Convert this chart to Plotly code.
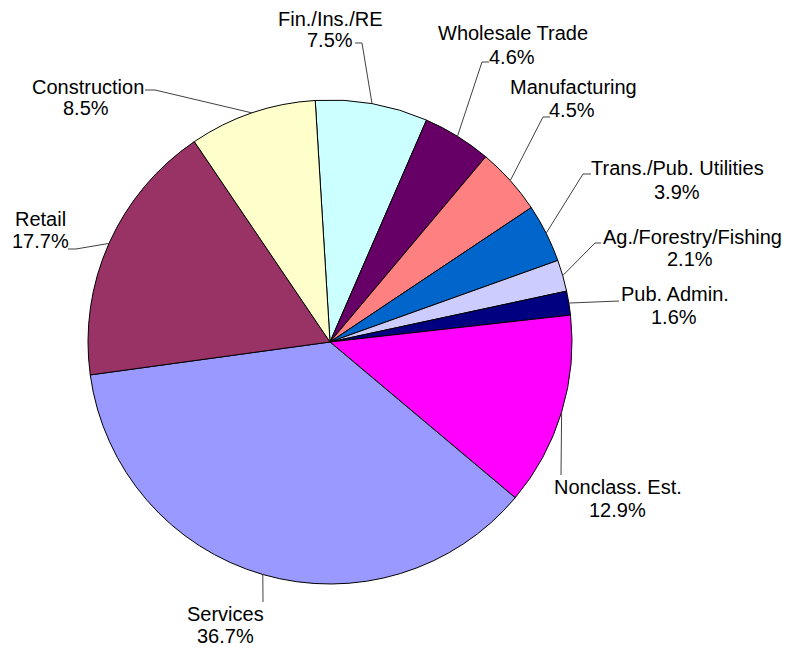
import math
import plotly.graph_objects as go

# ---- data ----
categories = ["Fin./Ins./RE", "Wholesale Trade", "Manufacturing", "Trans./Pub. Utilities",
              "Ag./Forestry/Fishing", "Pub. Admin.", "Nonclass. Est.", "Services",
              "Retail", "Construction"]
shares = [7.5, 4.6, 4.5, 3.9, 2.1, 1.6, 12.9, 36.7, 17.7, 8.5]
colors = ["#CCFFFF", "#660066", "#FF8080", "#0066CC", "#CCCCFF", "#000080",
          "#FF00FF", "#9999FF", "#993366", "#FFFFCC"]

# ---- layout (pixels, in page coordinates) ----
OFF = 8                    # default page margin around the plot div
W, H = 799 - OFF, 647 - OFF
CX, CY, R = 330, 342, 242
ROT = -3.5  # start angle (deg, clockwise from 12 o'clock)

# label placement: (name x, name y, value x, value y, leader path points after edge point)
label_pos = [
    (330, 19, 330, 40, [(362, 43), (355, 43)]),
    (513, 33, 512, 57, [(482, 62), (489, 62)]),
    (573, 87, 572, 110, [(543, 117), (550, 117)]),
    (677, 168, 677, 192, [(583, 174), (591, 174)]),
    (692, 237, 690, 259, [(595, 243), (601, 243)]),
    (675, 294, 674, 317, [(619, 301)]),
    (618, 487, 617, 510, [(561, 475)]),
    (225, 614, 225, 636, [(263, 602)]),
    (40, 219, 40, 241, [(76, 249), (68, 249)]),
    (88, 87, 86, 108, [(155, 90), (145, 90)]),
]

def px2paper(x, y):
    return (x - OFF) / W, 1 - (y - OFF) / H

dx0, dy0 = px2paper(CX - R, CY + R)
dx1, dy1 = px2paper(CX + R, CY - R)

fig = go.Figure(go.Pie(
    labels=categories, values=shares, sort=False, direction="clockwise",
    rotation=ROT, marker=dict(colors=colors, line=dict(color="#000000", width=1)),
    textinfo="none", hoverinfo="label+percent", showlegend=False,
    domain=dict(x=[dx0, dx1], y=[dy0, dy1]),
))

font = dict(family="Liberation Sans, Arial, sans-serif", size=20, color="#000000")
annotations = []
shapes = []
total = sum(shares)
cum = 0.0
for cat, v, lp in zip(categories, shares, label_pos):
    mid = ROT + 360 * (cum + v / 2) / total
    cum += v
    ex = CX + R * math.sin(math.radians(mid))
    ey = CY - R * math.cos(math.radians(mid))
    pts = [(ex, ey)] + lp[4]
    path = ""
    for i, (x, y) in enumerate(pts):
        px, py = px2paper(x, y)
        path += ("M" if i == 0 else " L") + f"{px:.5f},{py:.5f}"
    shapes.append(dict(type="path", xref="paper", yref="paper", path=path,
                       line=dict(color="#404040", width=1)))
    nx, ny = px2paper(lp[0], lp[1])
    vx, vy = px2paper(lp[2], lp[3])
    annotations.append(dict(x=nx, y=ny, xref="paper", yref="paper", text=cat,
                            showarrow=False, xanchor="center", yanchor="middle",
                            borderpad=0, font=font))
    annotations.append(dict(x=vx, y=vy, xref="paper", yref="paper", text=f"{v:.1f}%",
                            showarrow=False, xanchor="center", yanchor="middle",
                            borderpad=0, font=font))

fig.update_layout(width=W, height=H, margin=dict(l=0, r=0, t=0, b=0),
                  paper_bgcolor="white", plot_bgcolor="white",
                  annotations=annotations, shapes=shapes)
fig.write_html("out.html")
